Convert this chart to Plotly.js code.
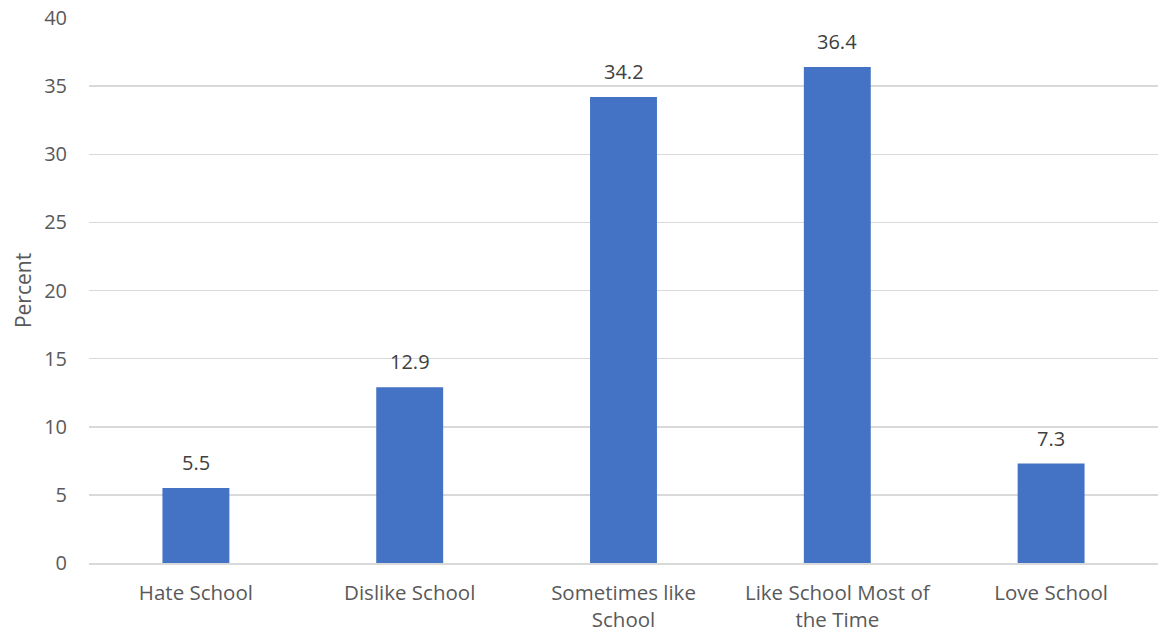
<!DOCTYPE html>
<html>
<head>
<meta charset="utf-8">
<script src="https://cdn.plot.ly/plotly-3.0.1.min.js"></script>
<style>html,body{margin:0;padding:0;background:#fff;}#chart{width:1158px;height:636px;}</style>
</head>
<body>
<div id="chart"></div>
<script>
const categories = ["Hate School", "Dislike School", "Sometimes like<br>School", "Like School Most of<br>the Time", "Love School"];
const percentValues = [5.5, 12.9, 34.2, 36.4, 7.3];
const valueLabels = ["5.5", "12.9", "34.2", "36.4", "7.3"];
const yTickValues = [0, 5, 10, 15, 20, 25, 30, 35, 40];

const trace = {
  type: "bar",
  x: categories,
  y: percentValues,
  marker: {color: "#4472C4"},
  hoverinfo: "none"
};

const annotations = categories.map((c, i) => ({
  x: c,
  y: percentValues[i],
  xref: "x",
  yref: "y",
  text: valueLabels[i],
  showarrow: false,
  yanchor: "bottom",
  yshift: 10,
  font: {family: "Open Sans, sans-serif", size: 20, color: "#404040"}
}));

const layout = {
  width: 1158,
  height: 636,
  margin: {l: 89, r: 0, t: 18, b: 73},
  paper_bgcolor: "#ffffff",
  plot_bgcolor: "#ffffff",
  bargap: 0.687,
  showlegend: false,
  font: {family: "Open Sans, sans-serif", size: 20, color: "#595959"},
  annotations: annotations,
  xaxis: {
    type: "category",
    showgrid: false,
    showline: true,
    linecolor: "#d9d9d9",
    linewidth: 1.5,
    ticks: "",
    ticklabelstandoff: 11,
    tickfont: {size: 20.5, color: "#595959"},
    automargin: false
  },
  yaxis: {
    range: [0, 40],
    tickvals: yTickValues,
    showgrid: true,
    gridcolor: "#d9d9d9",
    gridwidth: 1.5,
    zeroline: false,
    showline: false,
    ticks: "",
    ticklabelstandoff: 21,
    tickfont: {size: 20, color: "#595959"},
    title: {text: "Percent", font: {size: 21, color: "#595959"}, standoff: 6},
    automargin: false
  }
};

Plotly.newPlot("chart", [trace], layout, {displayModeBar: false, staticPlot: true});
</script>
</body>
</html>
